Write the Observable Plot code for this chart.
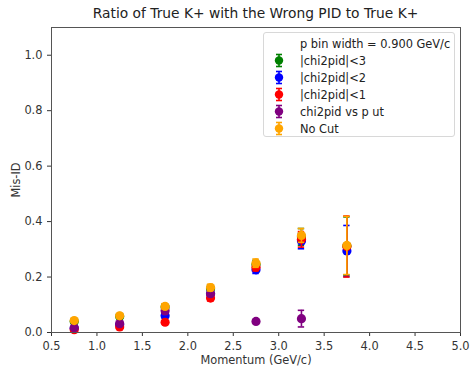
<!DOCTYPE html>
<html>
<head>
<meta charset="utf-8">
<script src="https://cdn.jsdelivr.net/npm/d3@7"></script>
<script src="https://cdn.jsdelivr.net/npm/@observablehq/plot@0.6"></script>
<style>
  html, body { margin: 0; padding: 0; background: #fff; }
  #wrap { position: relative; width: 471px; height: 366px; font-family: "DejaVu Sans", sans-serif; color: #222; }
  #title { position: absolute; left: 51px; width: 409px; top: 5px; text-align: center; font-size: 13.8px; }
  #legend { position: absolute; left: 263px; top: 32px; width: 192px; height: 105px; border: 1px solid #d8d8d8; border-radius: 3px; background: rgba(255,255,255,0.85); font-size: 11.4px; box-sizing: border-box; }
  .row { position: absolute; left: 0; height: 17px; display: flex; align-items: center; }
  .row svg { position: absolute; left: 8px; }
  .row span { position: absolute; left: 36px; white-space: nowrap; }
</style>
</head>
<body>
<div id="wrap">
  <div id="chart"></div>
  <div id="title">Ratio of True K+ with the Wrong PID to True K+</div>
  <div id="legend"></div>
</div>
<script>
const momentum = [0.75, 1.25, 1.75, 2.25, 2.75, 3.25, 3.75];
const chi3Vals = [0.040, 0.058, 0.092, 0.158, 0.245, 0.345, 0.312];
const chi3Errs = [0.005, 0.007, 0.010, 0.012, 0.015, 0.030, 0.105];
const chi2Vals = [0.015, 0.028, 0.060, 0.140, 0.226, 0.330, 0.294];
const chi2Errs = [0.004, 0.006, 0.008, 0.010, 0.013, 0.028, 0.092];
const chi1Vals = [0.010, 0.020, 0.037, 0.124, 0.235, 0.336, 0.310];
const chi1Errs = [0.003, 0.005, 0.006, 0.010, 0.013, 0.028, 0.110];
const putMomentum = [0.75, 1.25, 1.75, 2.25, 2.75, 3.25];
const putVals = [0.017, 0.032, 0.078, 0.140, 0.040, 0.050];
const putErrs = [0.004, 0.006, 0.008, 0.010, 0.006, 0.030];
const noCutVals = [0.043, 0.060, 0.094, 0.162, 0.250, 0.350, 0.314];
const noCutErrs = [0.005, 0.007, 0.010, 0.012, 0.015, 0.025, 0.105];

const seriesNames = ["|chi2pid|<3", "|chi2pid|<2", "|chi2pid|<1", "chi2pid vs p ut", "No Cut"];
const seriesColors = ["green", "blue", "red", "purple", "orange"];
const legendHeader = "p bin width = 0.900 GeV/c";
const xTicks = [0.5, 1.0, 1.5, 2.0, 2.5, 3.0, 3.5, 4.0, 4.5, 5.0];
const yTicks = [0.0, 0.2, 0.4, 0.6, 0.8, 1.0];

const seriesData = [
  [momentum, chi3Vals, chi3Errs],
  [momentum, chi2Vals, chi2Errs],
  [momentum, chi1Vals, chi1Errs],
  [putMomentum, putVals, putErrs],
  [momentum, noCutVals, noCutErrs]
];

const rows = [];
seriesData.forEach(([xs, ys, es], si) => {
  xs.forEach((x, i) => rows.push({series: seriesNames[si], color: seriesColors[si], order: si, x, y: ys[i], e: es[i]}));
});

const capHalf = 0.035;
const marks = [];
seriesNames.forEach((name, si) => {
  const d = rows.filter(r => r.order === si);
  marks.push(
    Plot.ruleX(d, {x: "x", y1: r => r.y - r.e, y2: r => r.y + r.e, stroke: "color", strokeWidth: 1.6}),
    Plot.ruleY(d, {y: r => r.y - r.e, x1: r => r.x - capHalf, x2: r => r.x + capHalf, stroke: "color", strokeWidth: 1.6}),
    Plot.ruleY(d, {y: r => r.y + r.e, x1: r => r.x - capHalf, x2: r => r.x + capHalf, stroke: "color", strokeWidth: 1.6}),
    Plot.dot(d, {x: "x", y: "y", r: 4.6, fill: "color", stroke: "none"})
  );
});

const chart = Plot.plot({
  width: 471,
  height: 366,
  marginLeft: 51,
  marginRight: 11,
  marginTop: 27,
  marginBottom: 34,
  style: {fontFamily: "DejaVu Sans, sans-serif", fontSize: "11.4px", color: "#333", background: "#fff"},
  x: {domain: [0.5, 5.0], ticks: xTicks, tickFormat: d3.format(".1f"), label: "Momentum (GeV/c)", labelAnchor: "center", labelArrow: "none", labelOffset: 31, tickSize: 4},
  y: {domain: [0, 1.1], ticks: yTicks, tickFormat: d3.format(".1f"), label: "Mis-ID", labelAnchor: "center", labelArrow: "none", labelOffset: 40, tickSize: 4},
  color: {type: "identity"},
  marks: [
    ...marks,
    Plot.frame({stroke: "#555", strokeWidth: 1})
  ]
});
document.getElementById("chart").appendChild(chart);

// Legend
const legend = document.getElementById("legend");
const head = document.createElement("div");
head.className = "row";
head.style.top = "2px";
head.innerHTML = `<span>${legendHeader}</span>`;
legend.appendChild(head);
seriesNames.forEach((name, i) => {
  const row = document.createElement("div");
  row.className = "row";
  row.style.top = (19 + i * 17) + "px";
  const c = seriesColors[i];
  row.innerHTML = `<svg width="14" height="17"><line x1="7" y1="2.5" x2="7" y2="14.5" stroke="${c}" stroke-width="1.6"/><line x1="4" y1="2.5" x2="10" y2="2.5" stroke="${c}" stroke-width="1.6"/><line x1="4" y1="14.5" x2="10" y2="14.5" stroke="${c}" stroke-width="1.6"/><circle cx="7" cy="8.5" r="4.2" fill="${c}"/></svg><span>${name}</span>`;
  legend.appendChild(row);
});
</script>
</body>
</html>
